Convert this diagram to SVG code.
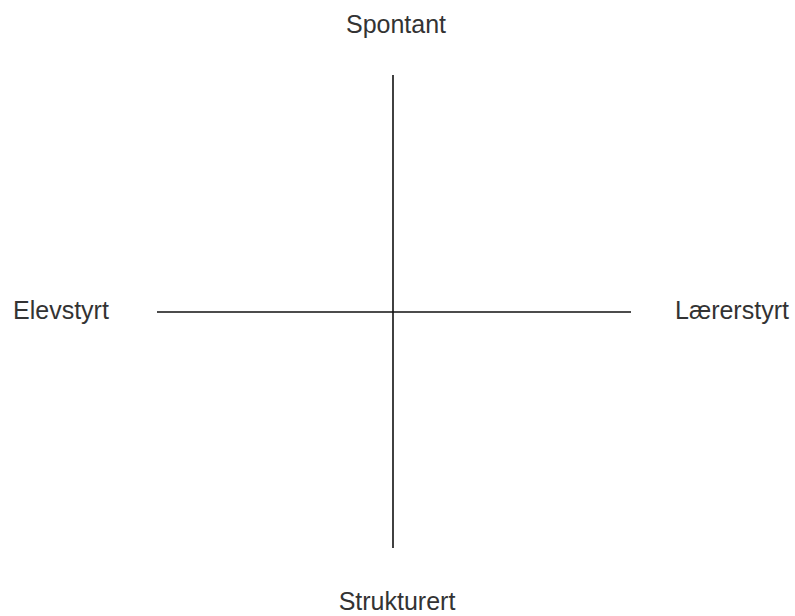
<svg xmlns="http://www.w3.org/2000/svg" width="795" height="616" viewBox="0 0 795 616">
<style>
.lbl{font-family:"Liberation Sans",Arial,sans-serif;font-size:25px;fill:#333}
.ax{stroke:#111;stroke-width:1.6;fill:none}
</style>
<rect width="795" height="616" fill="#fff"/>
<g id="connectors">
<line class="ax" x1="393" y1="75" x2="393" y2="548"/>
<line class="ax" x1="157" y1="312" x2="631" y2="312"/>
</g>
<g id="spontant"><text class="lbl" x="396" y="33" text-anchor="middle">Spontant</text></g>
<g id="elevstyrt"><text class="lbl" x="13" y="319">Elevstyrt</text></g>
<g id="larerstyrt"><text class="lbl" x="675" y="319">Lærerstyrt</text></g>
<g id="strukturert"><text class="lbl" x="397" y="610" text-anchor="middle">Strukturert</text></g>
</svg>
